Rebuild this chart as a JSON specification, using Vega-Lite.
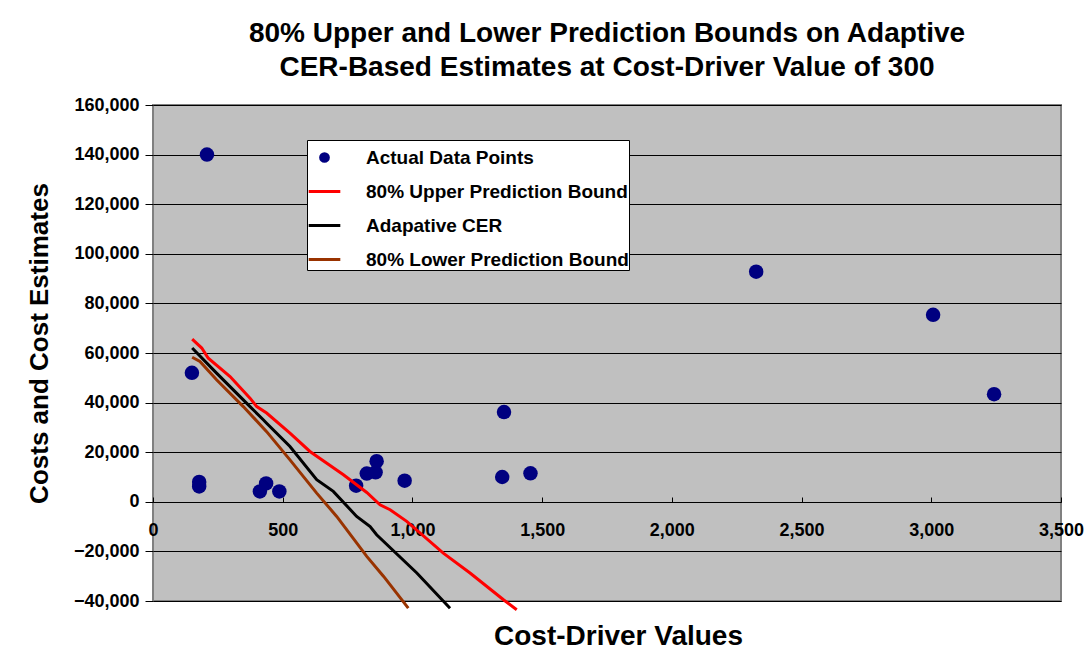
{
  "$schema": "https://vega.github.io/schema/vega-lite/v6.json",
  "width": 908,
  "height": 496,
  "autosize": {"type": "none"},
  "padding": {"left": 153, "top": 105, "right": 29, "bottom": 60},
  "background": "white",
  "title": {
    "text": ["80% Upper and Lower Prediction Bounds on Adaptive", "CER-Based Estimates at Cost-Driver Value of 300"],
    "font": "Liberation Sans",
    "fontSize": 28,
    "fontWeight": "bold",
    "color": "black",
    "anchor": "middle",
    "lineHeight": 34,
    "offset": 14
  },
  "config": {
    "view": {"fill": "#C0C0C0", "stroke": "#808080", "strokeWidth": 2},
    "axis": {
      "labelFont": "Liberation Sans",
      "labelFontSize": 18,
      "labelFontWeight": "bold",
      "labelColor": "black",
      "titleFont": "Liberation Sans",
      "titleFontSize": 26,
      "titleFontWeight": "bold",
      "titleColor": "black",
      "tickColor": "black",
      "domainColor": "black"
    },
    "legend": {
      "orient": "none",
      "legendX": 154,
      "legendY": 35,
      "fillColor": "white",
      "strokeColor": "black",
      "padding": 0,
      "symbolType": "stroke",
      "symbolSize": 1000,
      "symbolStrokeWidth": 3,
      "labelFont": "Liberation Sans",
      "labelFontSize": 19,
      "labelFontWeight": "bold",
      "labelColor": "black",
      "labelOffset": 24,
      "labelLimit": 400,
      "rowPadding": 6
    }
  },
  "datasets": {
    "pts": [
      {"series": "Actual Data Points", "x": 208, "y": 140000},
      {"series": "Actual Data Points", "x": 150, "y": 52000},
      {"series": "Actual Data Points", "x": 178, "y": 8000},
      {"series": "Actual Data Points", "x": 178, "y": 6200},
      {"series": "Actual Data Points", "x": 412, "y": 4200},
      {"series": "Actual Data Points", "x": 436, "y": 7400},
      {"series": "Actual Data Points", "x": 487, "y": 4200},
      {"series": "Actual Data Points", "x": 783, "y": 6500},
      {"series": "Actual Data Points", "x": 824, "y": 11400},
      {"series": "Actual Data Points", "x": 858, "y": 11900},
      {"series": "Actual Data Points", "x": 862, "y": 16400},
      {"series": "Actual Data Points", "x": 970, "y": 8500},
      {"series": "Actual Data Points", "x": 1346, "y": 10000},
      {"series": "Actual Data Points", "x": 1353, "y": 36200},
      {"series": "Actual Data Points", "x": 1455, "y": 11500},
      {"series": "Actual Data Points", "x": 2325, "y": 92800},
      {"series": "Actual Data Points", "x": 3007, "y": 75400},
      {"series": "Actual Data Points", "x": 3242, "y": 43400}
    ],
    "lines": [
      {"series": "80% Upper Prediction Bound", "x": 151, "y": 65600},
      {"series": "80% Upper Prediction Bound", "x": 188, "y": 62000},
      {"series": "80% Upper Prediction Bound", "x": 213, "y": 57900},
      {"series": "80% Upper Prediction Bound", "x": 297, "y": 50500},
      {"series": "80% Upper Prediction Bound", "x": 374, "y": 41800},
      {"series": "80% Upper Prediction Bound", "x": 400, "y": 38400},
      {"series": "80% Upper Prediction Bound", "x": 438, "y": 35800},
      {"series": "80% Upper Prediction Bound", "x": 528, "y": 27700},
      {"series": "80% Upper Prediction Bound", "x": 605, "y": 20300},
      {"series": "80% Upper Prediction Bound", "x": 734, "y": 10900},
      {"series": "80% Upper Prediction Bound", "x": 824, "y": 3750},
      {"series": "80% Upper Prediction Bound", "x": 875, "y": -1200},
      {"series": "80% Upper Prediction Bound", "x": 914, "y": -3200},
      {"series": "80% Upper Prediction Bound", "x": 978, "y": -7900},
      {"series": "80% Upper Prediction Bound", "x": 1119, "y": -20700},
      {"series": "80% Upper Prediction Bound", "x": 1222, "y": -28700},
      {"series": "80% Upper Prediction Bound", "x": 1351, "y": -39500},
      {"series": "80% Upper Prediction Bound", "x": 1402, "y": -43500},
      {"series": "Adapative CER", "x": 151, "y": 62000},
      {"series": "Adapative CER", "x": 245, "y": 51900},
      {"series": "Adapative CER", "x": 374, "y": 38400},
      {"series": "Adapative CER", "x": 425, "y": 33100},
      {"series": "Adapative CER", "x": 438, "y": 31700},
      {"series": "Adapative CER", "x": 528, "y": 22300},
      {"series": "Adapative CER", "x": 631, "y": 8900},
      {"series": "Adapative CER", "x": 695, "y": 4200},
      {"series": "Adapative CER", "x": 785, "y": -5900},
      {"series": "Adapative CER", "x": 837, "y": -10000},
      {"series": "Adapative CER", "x": 862, "y": -13300},
      {"series": "Adapative CER", "x": 1017, "y": -28700},
      {"series": "Adapative CER", "x": 1145, "y": -42900},
      {"series": "80% Lower Prediction Bound", "x": 151, "y": 58300},
      {"series": "80% Lower Prediction Bound", "x": 181, "y": 56600},
      {"series": "80% Lower Prediction Bound", "x": 245, "y": 49200},
      {"series": "80% Lower Prediction Bound", "x": 348, "y": 38400},
      {"series": "80% Lower Prediction Bound", "x": 438, "y": 28300},
      {"series": "80% Lower Prediction Bound", "x": 528, "y": 16900},
      {"series": "80% Lower Prediction Bound", "x": 631, "y": 3500},
      {"series": "80% Lower Prediction Bound", "x": 708, "y": -5900},
      {"series": "80% Lower Prediction Bound", "x": 824, "y": -22000},
      {"series": "80% Lower Prediction Bound", "x": 889, "y": -30100},
      {"series": "80% Lower Prediction Bound", "x": 984, "y": -42900}
    ]
  },
  "encoding": {
    "x": {
      "field": "x",
      "type": "quantitative",
      "scale": {"domain": [0, 3500], "nice": false, "zero": false},
      "axis": {
        "values": [0, 500, 1000, 1500, 2000, 2500, 3000, 3500],
        "format": ",.0f",
        "offset": -99,
        "tickSize": -5,
        "labelPadding": 24,
        "labelFlush": false,
        "labelOverlap": false,
        "grid": false,
        "title": "Cost-Driver Values",
        "titleFontSize": 28,
        "titleX": 465,
        "titleY": 142,
        "titleBaseline": "alphabetic",
        "titleAlign": "center"
      }
    },
    "y": {
      "field": "y",
      "type": "quantitative",
      "scale": {"domain": [-40000, 160000], "nice": false, "zero": false},
      "axis": {
        "values": [-40000, -20000, 0, 20000, 40000, 60000, 80000, 100000, 120000, 140000, 160000],
        "format": ",.0f",
        "grid": true,
        "gridColor": "black",
        "gridWidth": 1,
        "gridOpacity": 1,
        "tickSize": 8,
        "labelPadding": 6,
        "domain": false,
        "labelOverlap": false,
        "title": "Costs and Cost Estimates",
        "titleAngle": -90,
        "titleX": -106,
        "titleY": 238,
        "titleAlign": "center",
        "titleBaseline": "alphabetic"
      }
    },
    "color": {
      "field": "series",
      "type": "nominal",
      "scale": {
        "domain": ["Actual Data Points", "80% Upper Prediction Bound", "Adapative CER", "80% Lower Prediction Bound"],
        "range": ["#000080", "#FF0000", "#000000", "#993300"]
      },
      "legend": {
        "title": null,
        "encode": {
          "symbols": {
            "update": {
              "shape": {"signal": "datum.value === 'Actual Data Points' ? 'circle' : 'stroke'"},
              "fill": {"signal": "datum.value === 'Actual Data Points' ? '#000080' : 'transparent'"},
              "stroke": {"signal": "datum.value === 'Actual Data Points' ? 'transparent' : scale('color', datum.value)"},
              "strokeWidth": {"value": 3},
              "size": {"signal": "datum.value === 'Actual Data Points' ? 60 : 1000"},
              "opacity": {"value": 1}
            }
          }
        }
      }
    }
  },
  "layer": [
    {
      "data": {"name": "pts"},
      "mark": {"type": "circle", "size": 210, "opacity": 1}
    },
    {
      "data": {"name": "lines"},
      "mark": {"type": "line", "strokeWidth": 3, "clip": false}
    }
  ]
}
